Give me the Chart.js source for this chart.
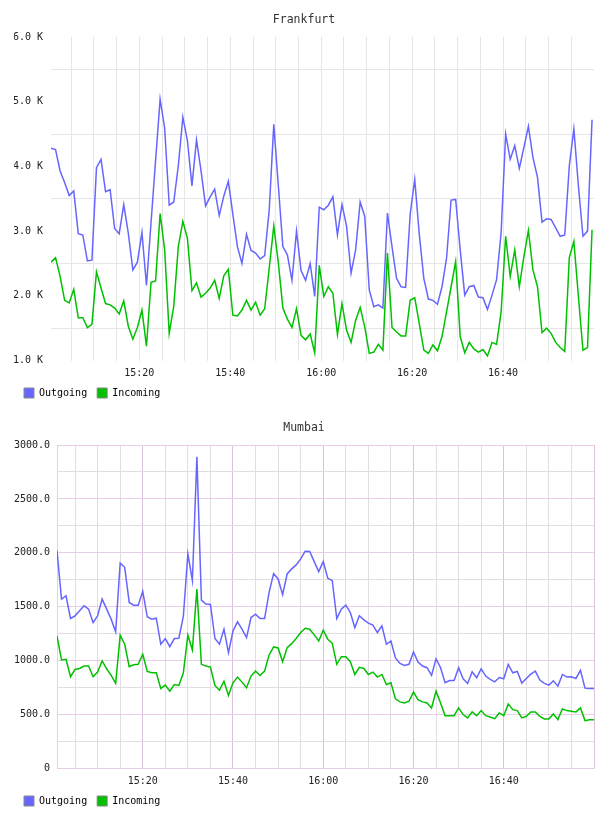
<!DOCTYPE html>
<html>
<head>
<meta charset="utf-8">
<title>Traffic</title>
<script src="https://cdn.jsdelivr.net/npm/chart.js@4.4.1/dist/chart.umd.min.js"></script>
<style>
  body { margin: 0; background: #fff; }
  .box { width: 608px; height: 408px; }
</style>
</head>
<body>
<div class="box"><canvas id="frankfurtChart" width="608" height="408"></canvas></div>
<div class="box"><canvas id="mumbaiChart" width="608" height="408"></canvas></div>
<script>
// minutes after 15:00, one sample per minute
const frankfurtStart = 0.57;
const mumbaiStart = 1.0;
const gridMinutes = [5, 10, 15, 20, 25, 30, 35, 40, 45, 50, 55, 60,
  65, 70, 75, 80, 85, 90, 95, 100, 105, 110, 115, 120];

const frankfurtOutgoing = [
  4280, 4260, 3930, 3750, 3550, 3620, 2960, 2940, 2540, 2550,
  3980, 4110, 3610, 3640, 3040, 2960, 3410, 2970, 2400, 2520,
  2980, 2160, 3130, 4090, 5040, 4590, 3400, 3450, 4010, 4760,
  4400, 3700, 4410, 3930, 3390, 3530, 3650, 3240, 3540, 3770,
  3260, 2760, 2500, 2950, 2700, 2660, 2570, 2620, 3330, 4650,
  3700, 2760, 2630, 2240, 3000, 2390, 2240, 2500, 1990, 3370,
  3330, 3400, 3530, 2940, 3410, 3080, 2350, 2710, 3450, 3230,
  2090, 1830, 1860, 1810, 3280, 2760, 2270, 2140, 2130, 3260,
  3800, 2950, 2270, 1950, 1930, 1870, 2140, 2580, 3480, 3490,
  2710, 2010, 2140, 2160, 1980, 1970, 1790, 2010, 2250, 2970,
  4500, 4110, 4320, 3970, 4290, 4620, 4140, 3830, 3140, 3190,
  3180, 3050, 2920, 2940, 4010, 4580, 3700, 2920, 3000, 4720
];
const frankfurtIncoming = [
  2520, 2590, 2300, 1930, 1890, 2100, 1660, 1660, 1510, 1560,
  2370, 2120, 1880, 1860, 1810, 1720, 1920, 1530, 1330, 1510,
  1780, 1220, 2210, 2230, 3270, 2710, 1420, 1840, 2760, 3150,
  2890, 2080, 2200, 1980, 2040, 2120, 2240, 1960, 2310, 2410,
  1700, 1690, 1780, 1930, 1780, 1900, 1700, 1800, 2430, 3080,
  2510, 1810, 1640, 1510, 1800, 1390, 1320, 1410, 1120, 2470,
  1990, 2140, 2040, 1400, 1880, 1470, 1280, 1620, 1820, 1520,
  1110, 1130, 1250, 1160, 2660, 1510, 1440, 1380, 1380, 1930,
  1970, 1570, 1160, 1110, 1240, 1150, 1370, 1750, 2140, 2530,
  1370, 1120, 1280, 1180, 1130, 1170, 1070, 1280, 1250, 1750,
  2920, 2300, 2710, 2140, 2600, 3010, 2400, 2140, 1430, 1500,
  1420, 1280, 1200, 1140, 2590, 2840, 1990, 1160, 1200, 3020
];

const mumbaiOutgoing = [
  2022, 1571, 1602, 1391, 1416, 1463, 1509, 1478, 1354, 1416,
  1571, 1478, 1385, 1267, 1904, 1866, 1540, 1515, 1515, 1643,
  1407, 1385, 1394, 1152, 1205, 1130, 1205, 1208, 1410, 1991,
  1742, 2891, 1562, 1525, 1522, 1205, 1152, 1292, 1074, 1276,
  1360, 1292, 1214, 1400, 1431, 1391, 1391, 1633, 1807, 1758,
  1612, 1804, 1851, 1888, 1944, 2015, 2012, 1919, 1826, 1919,
  1764, 1742, 1391, 1478, 1515, 1447, 1307, 1416, 1379, 1348,
  1329, 1261, 1323, 1152, 1183, 1025, 975, 956, 966, 1080,
  987, 950, 935, 863, 1018, 935, 795, 816, 816, 935,
  832, 789, 897, 841, 925, 857, 826, 804, 844, 832,
  966, 888, 900, 792, 835, 875, 903, 820, 789, 773,
  813, 764, 872, 848, 851, 835, 910, 745, 742, 742
];
const mumbaiIncoming = [
  1230, 1006, 1012, 851, 919, 928, 950, 950, 851, 894,
  997, 925, 863, 789, 1236, 1152, 944, 962, 966, 1059,
  900, 888, 888, 742, 773, 717, 779, 770, 888, 1236,
  1099, 1664, 966, 950, 941, 770, 726, 810, 677, 795,
  848, 801, 748, 857, 903, 863, 903, 1053, 1127, 1118,
  990, 1121, 1158, 1205, 1261, 1301, 1292, 1239, 1183, 1282,
  1199, 1161, 966, 1037, 1037, 990, 872, 938, 928, 872,
  894, 848, 872, 779, 795, 646, 618, 608, 624, 708,
  639, 618, 608, 562, 717, 608, 490, 490, 490, 562,
  500, 469, 525, 490, 537, 490, 478, 462, 515, 490,
  599, 546, 537, 469, 484, 525, 525, 484, 459, 459,
  506, 453, 552, 537, 531, 525, 562, 444, 453, 453
];

const seriesLabels = ['Outgoing', 'Incoming'];
const seriesColors = ['#6666ff', '#00c000'];

const monoFont = 'DejaVu Sans Mono';

function toPoints(values, start) {
  return values.map((v, i) => ({ x: start + i, y: v }));
}

function timeLabel(v) {
  const m = Math.round(v);
  if (m % 20 !== 0 || m <= 0 || m >= 120) return '';
  const h = 15 + Math.floor(m / 60);
  return h + ':' + String(m % 60).padStart(2, '0');
}

function buildChart(canvasId, title, start, outgoing, incoming, yOpts, xGrid, boxed) {
  const ctx = document.getElementById(canvasId).getContext('2d');
  return new Chart(ctx, {
    type: 'line',
    data: {
      datasets: [
        {
          label: seriesLabels[0],
          data: toPoints(outgoing, start),
          borderColor: seriesColors[0],
          backgroundColor: seriesColors[0],
          borderWidth: 1.5,
          pointRadius: 0,
          tension: 0
        },
        {
          label: seriesLabels[1],
          data: toPoints(incoming, start),
          borderColor: seriesColors[1],
          backgroundColor: seriesColors[1],
          borderWidth: 1.5,
          pointRadius: 0,
          tension: 0
        }
      ]
    },
    options: {
      responsive: false,
      animation: false,
      layout: { padding: { left: 14, right: 14, top: 0, bottom: 0 } },
      plugins: {
        title: {
          display: true,
          text: title,
          color: '#333',
          font: { family: monoFont, size: 11.5, weight: 'normal' },
          padding: { top: 13.5, bottom: 9.7 }
        },
        legend: {
          position: 'bottom',
          align: 'start',
          labels: {
            boxWidth: 10,
            boxHeight: 10,
            padding: 10,
            color: '#222',
            font: { family: monoFont, size: 10 },
            generateLabels: chart => chart.data.datasets.map((ds, i) => ({
              text: ds.label,
              fillStyle: ds.borderColor,
              strokeStyle: '#888',
              lineWidth: 1,
              hidden: false,
              datasetIndex: i
            }))
          }
        },
        tooltip: { enabled: false }
      },
      scales: {
        x: {
          type: 'linear',
          bounds: 'data',
          min: start,
          max: 120,
          afterBuildTicks: scale => {
            scale.ticks = gridMinutes.map(m => ({ value: m }));
          },
          afterFit: scale => { scale.height = 17.5; },
          border: { display: boxed, color: '#e8cce8' },
          grid: {
            drawTicks: false,
            color: c => xGrid(c.tick ? Math.round(c.tick.value) : 0),
            lineWidth: 1
          },
          ticks: {
            autoSkip: false,
            maxRotation: 0,
            padding: 7,
            color: '#222',
            font: { family: monoFont, size: 10 },
            callback: v => timeLabel(v)
          }
        },
        y: {
          min: yOpts.min,
          max: yOpts.max,
          afterFit: scale => { scale.width = yOpts.width; },
          border: { display: boxed, color: '#e8cce8' },
          grid: {
            drawTicks: false,
            color: c => yOpts.gridColor(c.tick ? c.tick.value : 0),
            lineWidth: 1
          },
          ticks: {
            stepSize: yOpts.step,
            padding: yOpts.pad,
            color: '#222',
            font: { family: monoFont, size: 10 },
            callback: v => yOpts.label(v)
          }
        }
      }
    }
  });
}

document.addEventListener('DOMContentLoaded', () => {
  buildChart('frankfurtChart', 'Frankfurt', frankfurtStart, frankfurtOutgoing, frankfurtIncoming, {
    min: 1000, max: 6000, step: 500, width: 37, pad: 8,
    gridColor: v => (v % 1000 === 0 ? 'rgba(0,0,0,0)' : '#e6e6e6'),
    label: v => (v % 1000 === 0 ? (v / 1000).toFixed(1) + ' K' : '')
  }, m => (m >= 120 ? 'rgba(0,0,0,0)' : '#e6e6e6'), false);

  buildChart('mumbaiChart', 'Mumbai', mumbaiStart, mumbaiOutgoing, mumbaiIncoming, {
    min: 0, max: 3000, step: 250, width: 43, pad: 7,
    gridColor: v => (v % 500 === 0 ? '#e8cce8' : '#e2dde2'),
    label: v => (v % 500 === 0 ? (v === 0 ? '0' : v.toFixed(1)) : '')
  }, m => (m % 20 === 0 ? '#dcc0dc' : '#e2dde2'), true);
});
</script>
</body>
</html>
